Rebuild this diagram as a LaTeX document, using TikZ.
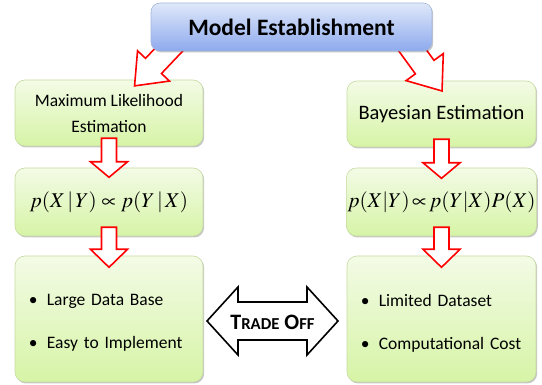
\documentclass[tikz,border=0pt]{standalone}
\usepackage{mathptmx}
\usepackage{fontspec}
\setmainfont{Carlito}
\usetikzlibrary{calc,shadows}
\definecolor{greentop}{HTML}{F3FBE6}
\definecolor{greenbot}{HTML}{D6F4A6}
\definecolor{greenline}{HTML}{C6DAA2}
\definecolor{bluetop}{HTML}{DFE8FA}
\definecolor{bluebot}{HTML}{8EAAEE}
\definecolor{blueline}{HTML}{A3B6DA}
\definecolor{arrowred}{HTML}{FF0000}
\newcommand\blkarrow[6]{%
  \begin{scope}[shift={#1},rotate=#2]
    \draw[redarrow] (0,-#4) -- ({#3-#6},-#4) -- ({#3-#6},-#5) -- (#3,0)
      -- ({#3-#6},#5) -- ({#3-#6},#4) -- (0,#4) -- cycle;
  \end{scope}}
\tikzset{
  greenbox/.style={rounded corners=10pt, draw=greenline, line width=0.6pt,
    top color=greentop, bottom color=greenbot, text=black,
    drop shadow={shadow xshift=1.2pt, shadow yshift=-1.5pt, opacity=0.22, fill=black}},
  bluebox/.style={rounded corners=9pt, draw=blueline, line width=0.6pt,
    top color=bluetop, bottom color=bluebot, text=black,
    drop shadow={shadow xshift=1.2pt, shadow yshift=-1.5pt, opacity=0.22, fill=black}},
  listtext/.style={inner sep=0pt, align=left, text width=172pt, anchor=west,
    font=\fontsize{17.5}{43}\selectfont},
  redarrow/.style={draw=arrowred, fill=white, line width=1.6pt, line join=miter},
  tradearrow/.style={draw=black, fill=white, line width=1.6pt, line join=miter},
}
\newcommand\bul{\makebox[18pt][l]{\textbullet}}
\begin{document}
\begin{tikzpicture}[x=1pt,y=-1pt]
\useasboundingbox (0,0) rectangle (542,385);
% left column
\node[greenbox, minimum width=188pt, minimum height=66pt, align=center,
  font=\fontsize{17.5}{26}\selectfont] (mle) at (109,113)
  {Maximum Likelihood\\Estimation};
\node[greenbox, minimum width=188pt, minimum height=68pt,
  font=\fontsize{21}{26}\selectfont] (eqa) at (109,202)
  {$p(X\,|\,Y)\propto p(Y\,|\,X)$};
\node[greenbox, minimum width=188pt, minimum height=126pt] (pros) at (109,319) {};
\node[listtext] (prostext) at ($(pros.west)+(14,4)$)
  {\bul Large Data Base\\\bul Easy to Implement};
% right column
\node[greenbox, minimum width=189pt, minimum height=66pt,
  font=\fontsize{20.5}{24}\selectfont] (bay) at (441.5,114)
  {Bayesian Estimation};
\node[greenbox, minimum width=189pt, minimum height=68pt, inner sep=1pt,
  font=\fontsize{21}{26}\selectfont] (eqb) at (441.5,202)
  {$p(X|Y)\!\propto\! p(Y|X)P(X)$};
\node[greenbox, minimum width=189pt, minimum height=126pt] (cons) at (441.5,319) {};
\node[listtext] (constext) at ($(cons.west)+(14,4)$)
  {\bul Limited Dataset\\\bul Computational Cost};
% diagonal arrows (tails hidden under top box)
\coordinate (ltail) at (180,38);
\coordinate (rtail) at (405,40);
\blkarrow{(ltail)}{226.5}{66}{11}{22}{27.5}
\blkarrow{(rtail)}{-54}{63}{11.5}{23}{29.5}
% top box
\node[bluebox, minimum width=281pt, minimum height=48pt,
  font=\fontsize{23.5}{26}\selectfont\bfseries] (model) at (291.5,27)
  {Model Establishment};
% down arrows
\blkarrow{($(mle.south)+(0,-8)$)}{-90}{39}{7.5}{18.5}{15.5}
\blkarrow{($(eqa.south)+(0,-9)$)}{-90}{40}{7.5}{18.5}{18}
\blkarrow{($(bay.south)+(0,-8)$)}{-90}{39}{7.5}{18.5}{15.5}
\blkarrow{($(eqb.south)+(0,-9)$)}{-90}{40}{7.5}{18.5}{18}
% trade-off double arrow
\draw[tradearrow] (207,321) -- (238,287) -- (238,302) -- (307,302) -- (307,287)
  -- (338,321) -- (307,355) -- (307,340) -- (238,340) -- (238,355) -- cycle;
\node[font=\bfseries] (trade) at (272.5,322)
  {{\fontsize{22}{22}\selectfont T}{\fontsize{16.7}{22}\selectfont RADE}%
   {\fontsize{22}{22}\selectfont\ O}{\fontsize{16.7}{22}\selectfont FF}};
\end{tikzpicture}
\end{document}
